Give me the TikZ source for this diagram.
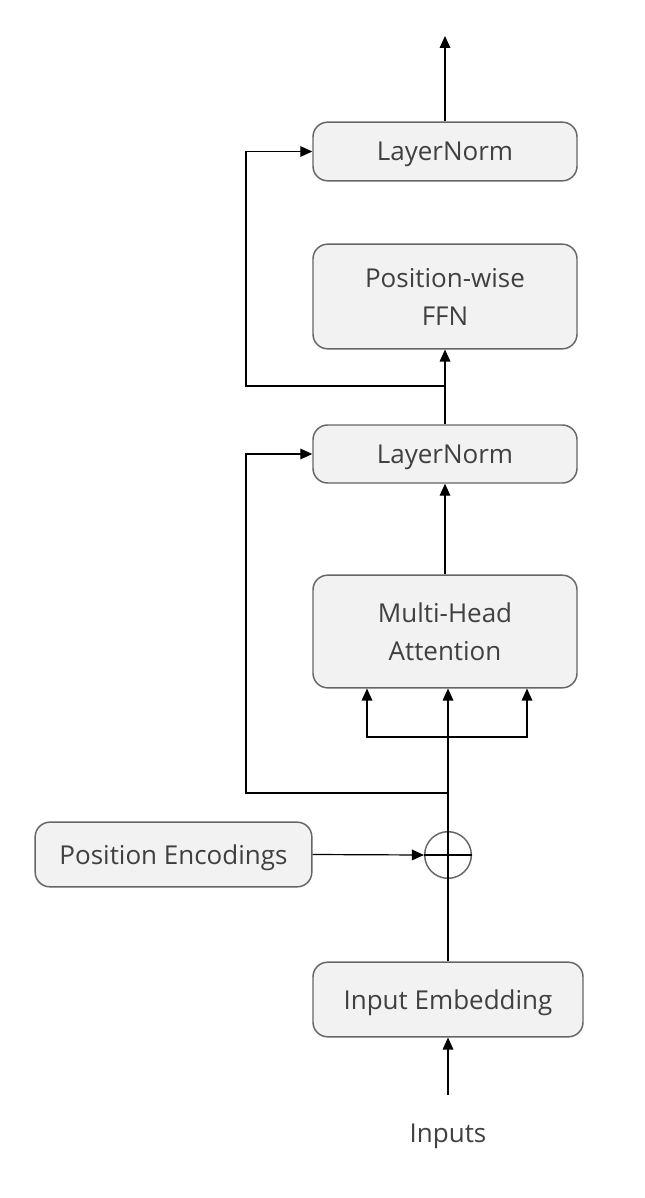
\documentclass[tikz,border=0pt]{standalone}
\usepackage{fontspec}
\setmainfont{Open Sans}
\usetikzlibrary{arrows.meta, positioning, calc}
\definecolor{BoxFill}{HTML}{F2F2F2}
\definecolor{BoxLine}{HTML}{666666}
\definecolor{LabelGray}{HTML}{404040}

\begin{document}
\begin{tikzpicture}[x=0.75pt, y=-0.75pt,
  block/.style={draw=BoxLine, fill=BoxFill, line width=1.1pt, rounded corners=11pt, minimum width=198pt, font=\fontsize{19.5}{28.5}\selectfont, text=LabelGray, align=center, inner sep=0pt, text depth=0pt},
  label/.style={font=\fontsize{19.5}{28.5}\selectfont, text=LabelGray},
  link/.style={-{Triangle[length=9pt, width=8pt]}, line width=0.9pt},
  wire/.style={line width=0.9pt}
]
\useasboundingbox (0,0) rectangle (644,1198);

% Encoder blocks
\node[block, minimum height=44pt] (norm2) at (445,151.5) {LayerNorm};
\node[block, minimum height=78.5pt] (ffn) at (445,296.5) {Position-wise\\FFN};
\node[block, minimum height=43.5pt] (norm1) at (445,454) {LayerNorm};
\node[block, minimum height=84.5pt] (mha) at (445,631.5) {Multi-Head\\Attention};

% Input side
\node[block, minimum width=207.5pt, minimum height=48.5pt] (posenc) at (173.5,854.5) {Position Encodings};
\node[block, minimum width=202.5pt, minimum height=56pt] (embed) at (448,999.5) {Input Embedding};
\node[draw=BoxLine, line width=1.1pt, circle, minimum size=35pt, inner sep=0pt] (add) at (448,855) {};
\node[label] (inputs) at (448,1136) {Inputs};

% Helper points
\coordinate (skip) at (246,0);
\coordinate (split) at (448,737);
\coordinate (res1) at (448,793);
\coordinate (res2) at (445,386);
\coordinate (out) at (445,36);

% Main path
\draw[link, shorten <=18pt] (inputs.north) -- (embed.south);
\draw[line width=1.5pt] (embed.north) -- (add.south);
\draw[line width=1.5pt] (add.west) -- (add.east);
\draw[line width=1.5pt] (add.south) -- (add.north) -- (split);
\draw[link] (posenc.east) -- (add.west);
\draw[link] (split) -- (split |- mha.south);
\draw[link] (split) -| ($(mha.south)+(-78,0)$);
\draw[link] (split) -| ($(mha.south)+(82,0)$);
\draw[link] (mha.north) -- (norm1.south);
\draw[link] (norm1.north) -- (ffn.south);
\draw[link] (norm2.north) -- (out);

% Residual connections
\draw[link] (res1) -- (res1 -| skip) |- (norm1.west);
\draw[link] (res2) -- (res2 -| skip) |- (norm2.west);
\end{tikzpicture}
\end{document}
